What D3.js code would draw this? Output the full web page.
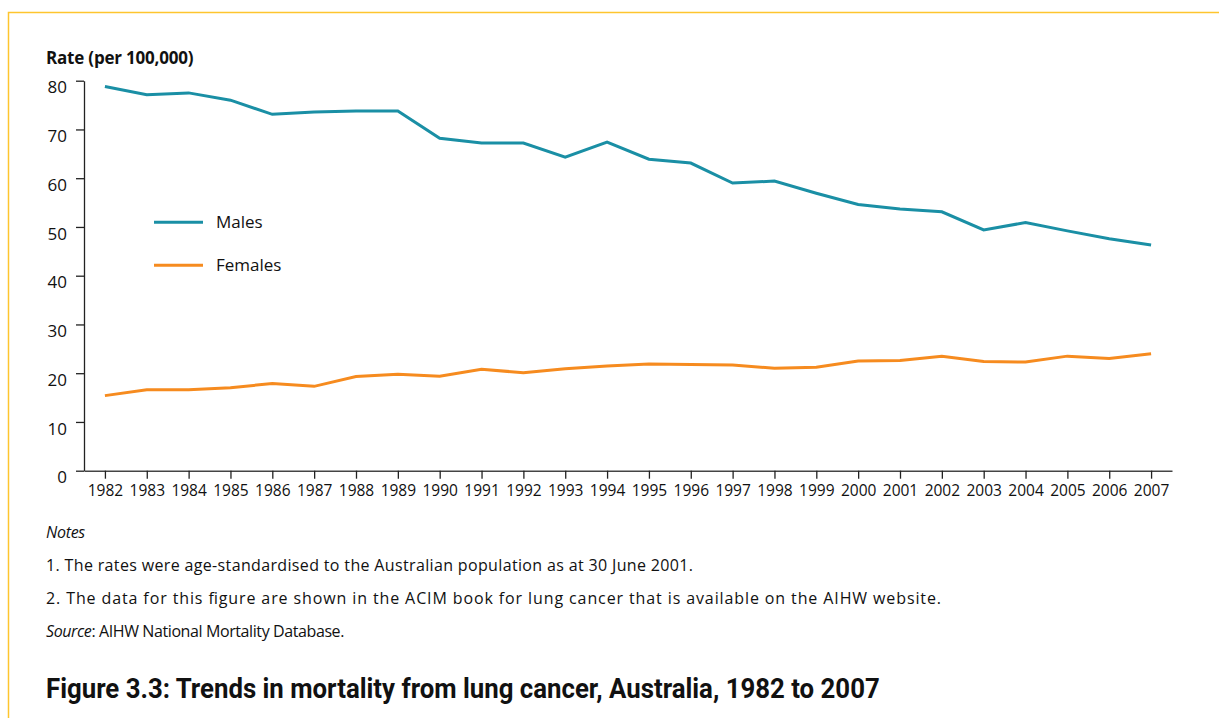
<!DOCTYPE html>
<html>
<head>
<meta charset="utf-8">
<script src="https://cdn.jsdelivr.net/npm/d3@7"></script>
<style>
  html, body { margin: 0; padding: 0; background: #fff; }
  svg { display: block; }
  text { font-family: "Open Sans", "Noto Sans", sans-serif; fill: #111; }
</style>
</head>
<body>
<svg id="chart" width="1219" height="718"></svg>
<script>
const years = [1982,1983,1984,1985,1986,1987,1988,1989,1990,1991,1992,1993,1994,1995,1996,1997,1998,1999,2000,2001,2002,2003,2004,2005,2006,2007];
const males = [78.8,77.1,77.5,76.0,73.1,73.6,73.8,73.8,68.2,67.2,67.2,64.3,67.4,63.9,63.1,59.0,59.4,56.9,54.6,53.7,53.1,49.4,50.9,49.2,47.6,46.3];
const females = [15.4,16.6,16.6,17.0,17.9,17.3,19.3,19.8,19.4,20.8,20.1,20.9,21.5,21.9,21.8,21.7,21.0,21.2,22.5,22.6,23.5,22.4,22.3,23.5,23.0,24.0];
const yTicks = [0,10,20,30,40,50,60,70,80];
const seriesNames = ["Males", "Females"];
const seriesColors = ["#1a8fa5", "#f68b1f"];
const yTitle = "Rate (per 100,000)";
const notesHead = "Notes";
const notes = [
  "1. The rates were age-standardised to the Australian population as at 30 June 2001.",
  "2. The data for this figure are shown in the ACIM book for lung cancer that is available on the AIHW website."
];
const sourceLabel = "Source";
const sourceText = ": AIHW National Mortality Database.";
const figTitle = "Figure 3.3: Trends in mortality from lung cancer, Australia, 1982 to 2007";

const svg = d3.select("#chart");

// frame
svg.append("path")
  .attr("d", "M8.5,718 L8.5,12.5 L1219,12.5")
  .attr("fill", "none").attr("stroke", "#fec52e").attr("stroke-width", 1.5);

const x = d3.scalePoint().domain(years).range([84, 1172]).padding(0.5);
const y = d3.scaleLinear().domain([0, 80]).range([470.7, 80.7]);

// y axis
const yAx = svg.append("g").attr("transform", "translate(84,0)")
  .call(d3.axisLeft(y).tickValues(yTicks).tickSize(8).tickPadding(9).tickSizeOuter(0));
yAx.select(".domain").attr("stroke", "#222").attr("stroke-width", 1.3);
yAx.selectAll(".tick line").attr("stroke", "#222").attr("stroke-width", 1.3);
yAx.selectAll(".tick text").attr("font-size", 17).attr("dy", "0.72em")
  .style("font-family", "'Open Sans', sans-serif").attr("fill", "#111");

// x axis
const xAx = svg.append("g").attr("transform", "translate(0,470.7)")
  .call(d3.axisBottom(x).tickSize(8).tickPadding(6).tickSizeOuter(0));
xAx.select(".domain").attr("stroke", "#444").attr("stroke-width", 1.5);
xAx.selectAll(".tick line").attr("stroke", "#222").attr("stroke-width", 1.3);
xAx.selectAll(".tick text").attr("font-size", 15.5)
  .style("font-family", "'Open Sans', sans-serif").attr("fill", "#111");

// y title
svg.append("text").attr("x", 46).attr("y", 64)
  .attr("font-size", 17).attr("font-weight", 700).attr("letter-spacing", -0.2)
  .text(yTitle);

// lines
const line = d3.line().x((d, i) => x(years[i])).y(d => y(d));
[males, females].forEach((s, k) => {
  svg.append("path").datum(s)
    .attr("d", line)
    .attr("fill", "none")
    .attr("stroke", seriesColors[k])
    .attr("stroke-width", 3)
    .attr("stroke-linejoin", "miter");
});

// legend
const legY = [222.3, 265.3];
seriesNames.forEach((n, k) => {
  svg.append("line").attr("x1", 154).attr("x2", 203)
    .attr("y1", legY[k]).attr("y2", legY[k])
    .attr("stroke", seriesColors[k]).attr("stroke-width", 3);
  svg.append("text").attr("x", 216).attr("y", legY[k] + 6)
    .attr("font-size", 17).text(n);
});

// notes
svg.append("text").attr("x", 46).attr("y", 538)
  .attr("font-size", 16).attr("font-style", "italic").attr("letter-spacing", -0.3).text(notesHead);
const noteWidths = [647, 895];
notes.forEach((t, i) => {
  svg.append("text").attr("x", 46).attr("y", 571 + i * 33)
    .attr("font-size", 16)
    .attr("textLength", noteWidths[i]).attr("lengthAdjust", "spacing")
    .text(t);
});
const src = svg.append("text").attr("x", 46).attr("y", 637)
  .attr("font-size", 16).attr("letter-spacing", -0.4);
src.append("tspan").attr("font-style", "italic").text(sourceLabel);
src.append("tspan").text(sourceText);

// title (condensed bold: scale horizontally to match width)
const tg = svg.append("g").attr("transform", "translate(46,698)");
const tt = tg.append("text").attr("x", 0).attr("y", 0)
  .attr("font-size", 28).attr("font-weight", 700)
  .style("font-family", "Roboto, 'Open Sans', sans-serif")
  .text(figTitle);
const tw = tt.node().getComputedTextLength();
tt.attr("transform", `scale(${834 / tw},1)`);
</script>
</body>
</html>
